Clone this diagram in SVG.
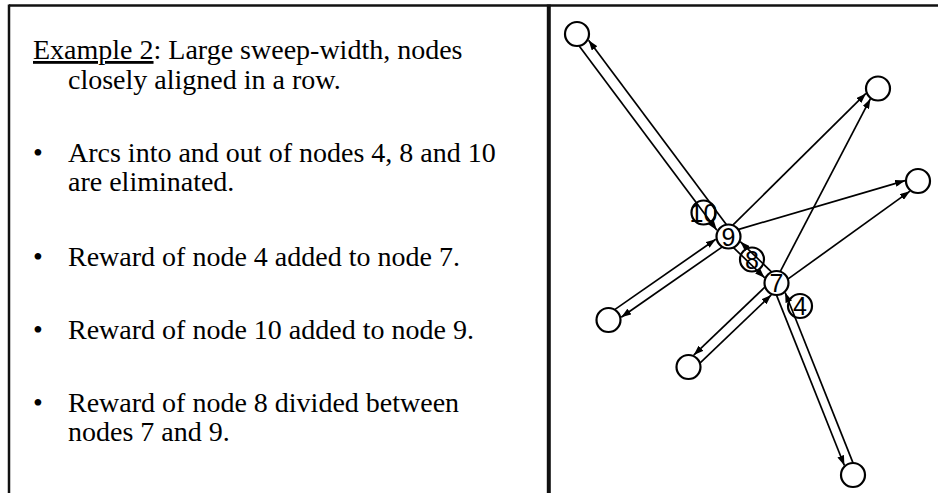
<svg xmlns="http://www.w3.org/2000/svg" width="938" height="493" viewBox="0 0 938 493">
<style>
.frame{stroke:#111;fill:none}
.txt{font-family:"Liberation Serif","Times New Roman",serif;font-size:28px;fill:#000}
.edge{stroke:#000;stroke-width:1.7;fill:none;marker-end:url(#ah)}
.node{fill:#fff;stroke:#000;stroke-width:2.2}
.ghost{fill:none;stroke:#000;stroke-width:2.2}
.lbl{font-family:"Liberation Sans",Arial,sans-serif;font-size:25px;fill:#000;text-anchor:middle;dominant-baseline:central}
</style>
<defs>
<marker id="ah" viewBox="0 0 10 7" refX="10" refY="3.5" markerWidth="10" markerHeight="7" orient="auto" markerUnits="userSpaceOnUse"><path d="M0,0 L10,3.5 L0,7 z" fill="#000"/></marker>
</defs>
<rect width="938" height="493" fill="#fff"/>
<g id="frame">
<line class="frame" x1="9" y1="5.5" x2="938" y2="5.5" stroke-width="2.5"/>
<line class="frame" x1="9" y1="4.5" x2="9" y2="493" stroke-width="2.5"/>
<line class="frame" x1="548.8" y1="4.5" x2="548.8" y2="493" stroke-width="4"/>
</g>
<g id="text">
<text class="txt" x="33" y="59"><tspan style="text-decoration:underline">Example 2</tspan>: Large sweep-width, nodes</text>
<text class="txt" x="68" y="89">closely aligned in a row.</text>
<text class="txt" x="33" y="162">•</text>
<text class="txt" x="68" y="162">Arcs into and out of nodes 4, 8 and 10</text>
<text class="txt" x="68" y="191">are eliminated.</text>
<text class="txt" x="33" y="266">•</text>
<text class="txt" x="68" y="266">Reward of node 4 added to node 7.</text>
<text class="txt" x="33" y="339">•</text>
<text class="txt" x="68" y="339">Reward of node 10 added to node 9.</text>
<text class="txt" x="33" y="412">•</text>
<text class="txt" x="68" y="412">Reward of node 8 divided between</text>
<text class="txt" x="68" y="441">nodes 7 and 9.</text>
</g>
<g id="connectors">
<line class="edge" x1="579.19" y1="46.10" x2="716.91" y2="230.18"/>
<line class="edge" x1="726.31" y1="224.40" x2="588.59" y2="40.32"/>
<line class="edge" x1="732.80" y1="225.21" x2="865.95" y2="93.39"/>
<line class="edge" x1="779.82" y1="272.32" x2="870.45" y2="98.65"/>
<line class="edge" x1="737.93" y1="229.57" x2="905.08" y2="180.62"/>
<line class="edge" x1="787.47" y1="279.41" x2="909.91" y2="191.15"/>
<line class="edge" x1="614.67" y1="309.62" x2="715.79" y2="239.25"/>
<line class="edge" x1="722.33" y1="246.88" x2="621.21" y2="317.25"/>
<line class="edge" x1="765.10" y1="286.97" x2="693.73" y2="355.10"/>
<line class="edge" x1="699.90" y1="363.03" x2="771.27" y2="294.90"/>
<line class="edge" x1="776.39" y1="294.89" x2="844.38" y2="465.52"/>
<line class="edge" x1="853.11" y1="463.11" x2="785.12" y2="292.48"/>
<line class="edge" x1="733.27" y1="247.38" x2="764.75" y2="277.88"/>
<line class="edge" x1="771.73" y1="272.12" x2="740.25" y2="241.62"/>
</g>
<g id="n10"><circle class="ghost" cx="703.5" cy="212.5" r="12"/><text class="lbl" x="703.5" y="212.5">10</text></g>
<g id="n8"><circle class="ghost" cx="752" cy="259.5" r="12"/><text class="lbl" x="752" y="259.5">8</text></g>
<g id="n4"><circle class="ghost" cx="800" cy="306" r="12"/><text class="lbl" x="800" y="306">4</text></g>
<g id="n9"><circle class="node" cx="728.5" cy="236.5" r="12"/><text class="lbl" x="728.5" y="236.5">9</text></g>
<g id="n7"><circle class="node" cx="776.5" cy="283" r="12"/><text class="lbl" x="776.5" y="283">7</text></g>
<g id="nTL"><circle class="node" cx="577" cy="34" r="12"/></g>
<g id="nTR"><circle class="node" cx="878" cy="88.5" r="12"/></g>
<g id="nR"><circle class="node" cx="918" cy="181" r="12"/></g>
<g id="nL"><circle class="node" cx="608.5" cy="320" r="12"/></g>
<g id="nLL"><circle class="node" cx="688.5" cy="367" r="12"/></g>
<g id="nB"><circle class="node" cx="853" cy="475" r="12"/></g>
</svg>
